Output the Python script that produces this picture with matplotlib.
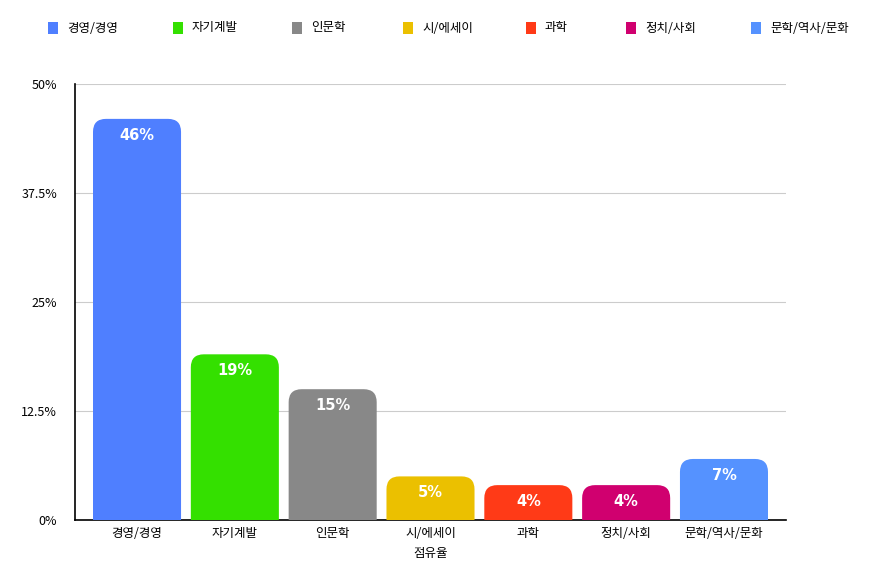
import matplotlib
matplotlib.use('Agg')
import matplotlib.pyplot as plt
from matplotlib.path import Path
from matplotlib.patches import PathPatch, Rectangle

plt.rcParams['font.family'] = ['Noto Sans CJK KR', 'DejaVu Sans']

categories = ['경영/경영', '자기계발', '인문학', '시/에세이', '과학', '정치/사회', '문학/역사/문화']
values = [46, 19, 15, 5, 4, 4, 7]
colors = ['#4F7FFF', '#34E000', '#888888', '#EBC000', '#FF3A17', '#D0006F', '#5592FF']
yticks = [0, 12.5, 25, 37.5, 50]
ytick_labels = ['0%', '12.5%', '25%', '37.5%', '50%']

fig = plt.figure(figsize=(8.7, 5.69), dpi=100)
ax = fig.add_axes([75 / 870, 1 - 520 / 569, 711 / 870, 436 / 569])

ax.set_xlim(-0.634, len(categories) - 1 + 0.634)
ax.set_ylim(0, 50)

# 둥근 모서리 막대 (반지름 약 13px)
width = 0.9
rx = 13 / 97.8
ry = 13 / 8.72
for i, (v, c) in enumerate(zip(values, colors)):
    x0, x1 = i - width / 2, i + width / 2
    r_y = min(ry, v)
    verts = [
        (x0, 0), (x0, v - r_y), (x0, v), (x0 + rx, v),
        (x1 - rx, v), (x1, v), (x1, v - r_y), (x1, 0), (x0, 0)
    ]
    codes = [Path.MOVETO, Path.LINETO, Path.CURVE3, Path.CURVE3,
             Path.LINETO, Path.CURVE3, Path.CURVE3, Path.LINETO, Path.CLOSEPOLY]
    ax.add_patch(PathPatch(Path(verts, codes), facecolor=c, edgecolor='none', zorder=3))
    ax.text(i, v - 1.85, f'{v}%', ha='center', va='center', color='white',
            fontsize=10.5, fontweight='bold', family=['DejaVu Sans'], zorder=4)

ax.set_yticks(yticks)
ax.set_yticklabels(ytick_labels, fontsize=9)
ax.set_xticks(range(len(categories)))
ax.set_xticklabels(categories, fontsize=9)
ax.tick_params(axis='both', length=0)
ax.tick_params(axis='y', pad=13)
ax.tick_params(axis='x', pad=5)
ax.set_xlabel('점유율', fontsize=9, labelpad=5)

for y in yticks[1:]:
    ax.axhline(y, color='#CCCCCC', linewidth=0.8, zorder=1)

for s in ['top', 'right']:
    ax.spines[s].set_visible(False)
ax.spines['left'].set_linewidth(1.2)
ax.spines['bottom'].set_linewidth(1.2)

# 범례
legend_x = [48, 173, 292, 403, 526, 626, 751]
for lx, name, c in zip(legend_x, categories, colors):
    fig.patches.append(Rectangle((lx / 870, 1 - 34 / 569), 10 / 870, 12 / 569,
                                 transform=fig.transFigure, facecolor=c, edgecolor='none'))
    fig.text((lx + 19) / 870, 1 - 28 / 569, name, fontsize=9, va='center', ha='left')

fig.savefig('out.png', dpi=100)
